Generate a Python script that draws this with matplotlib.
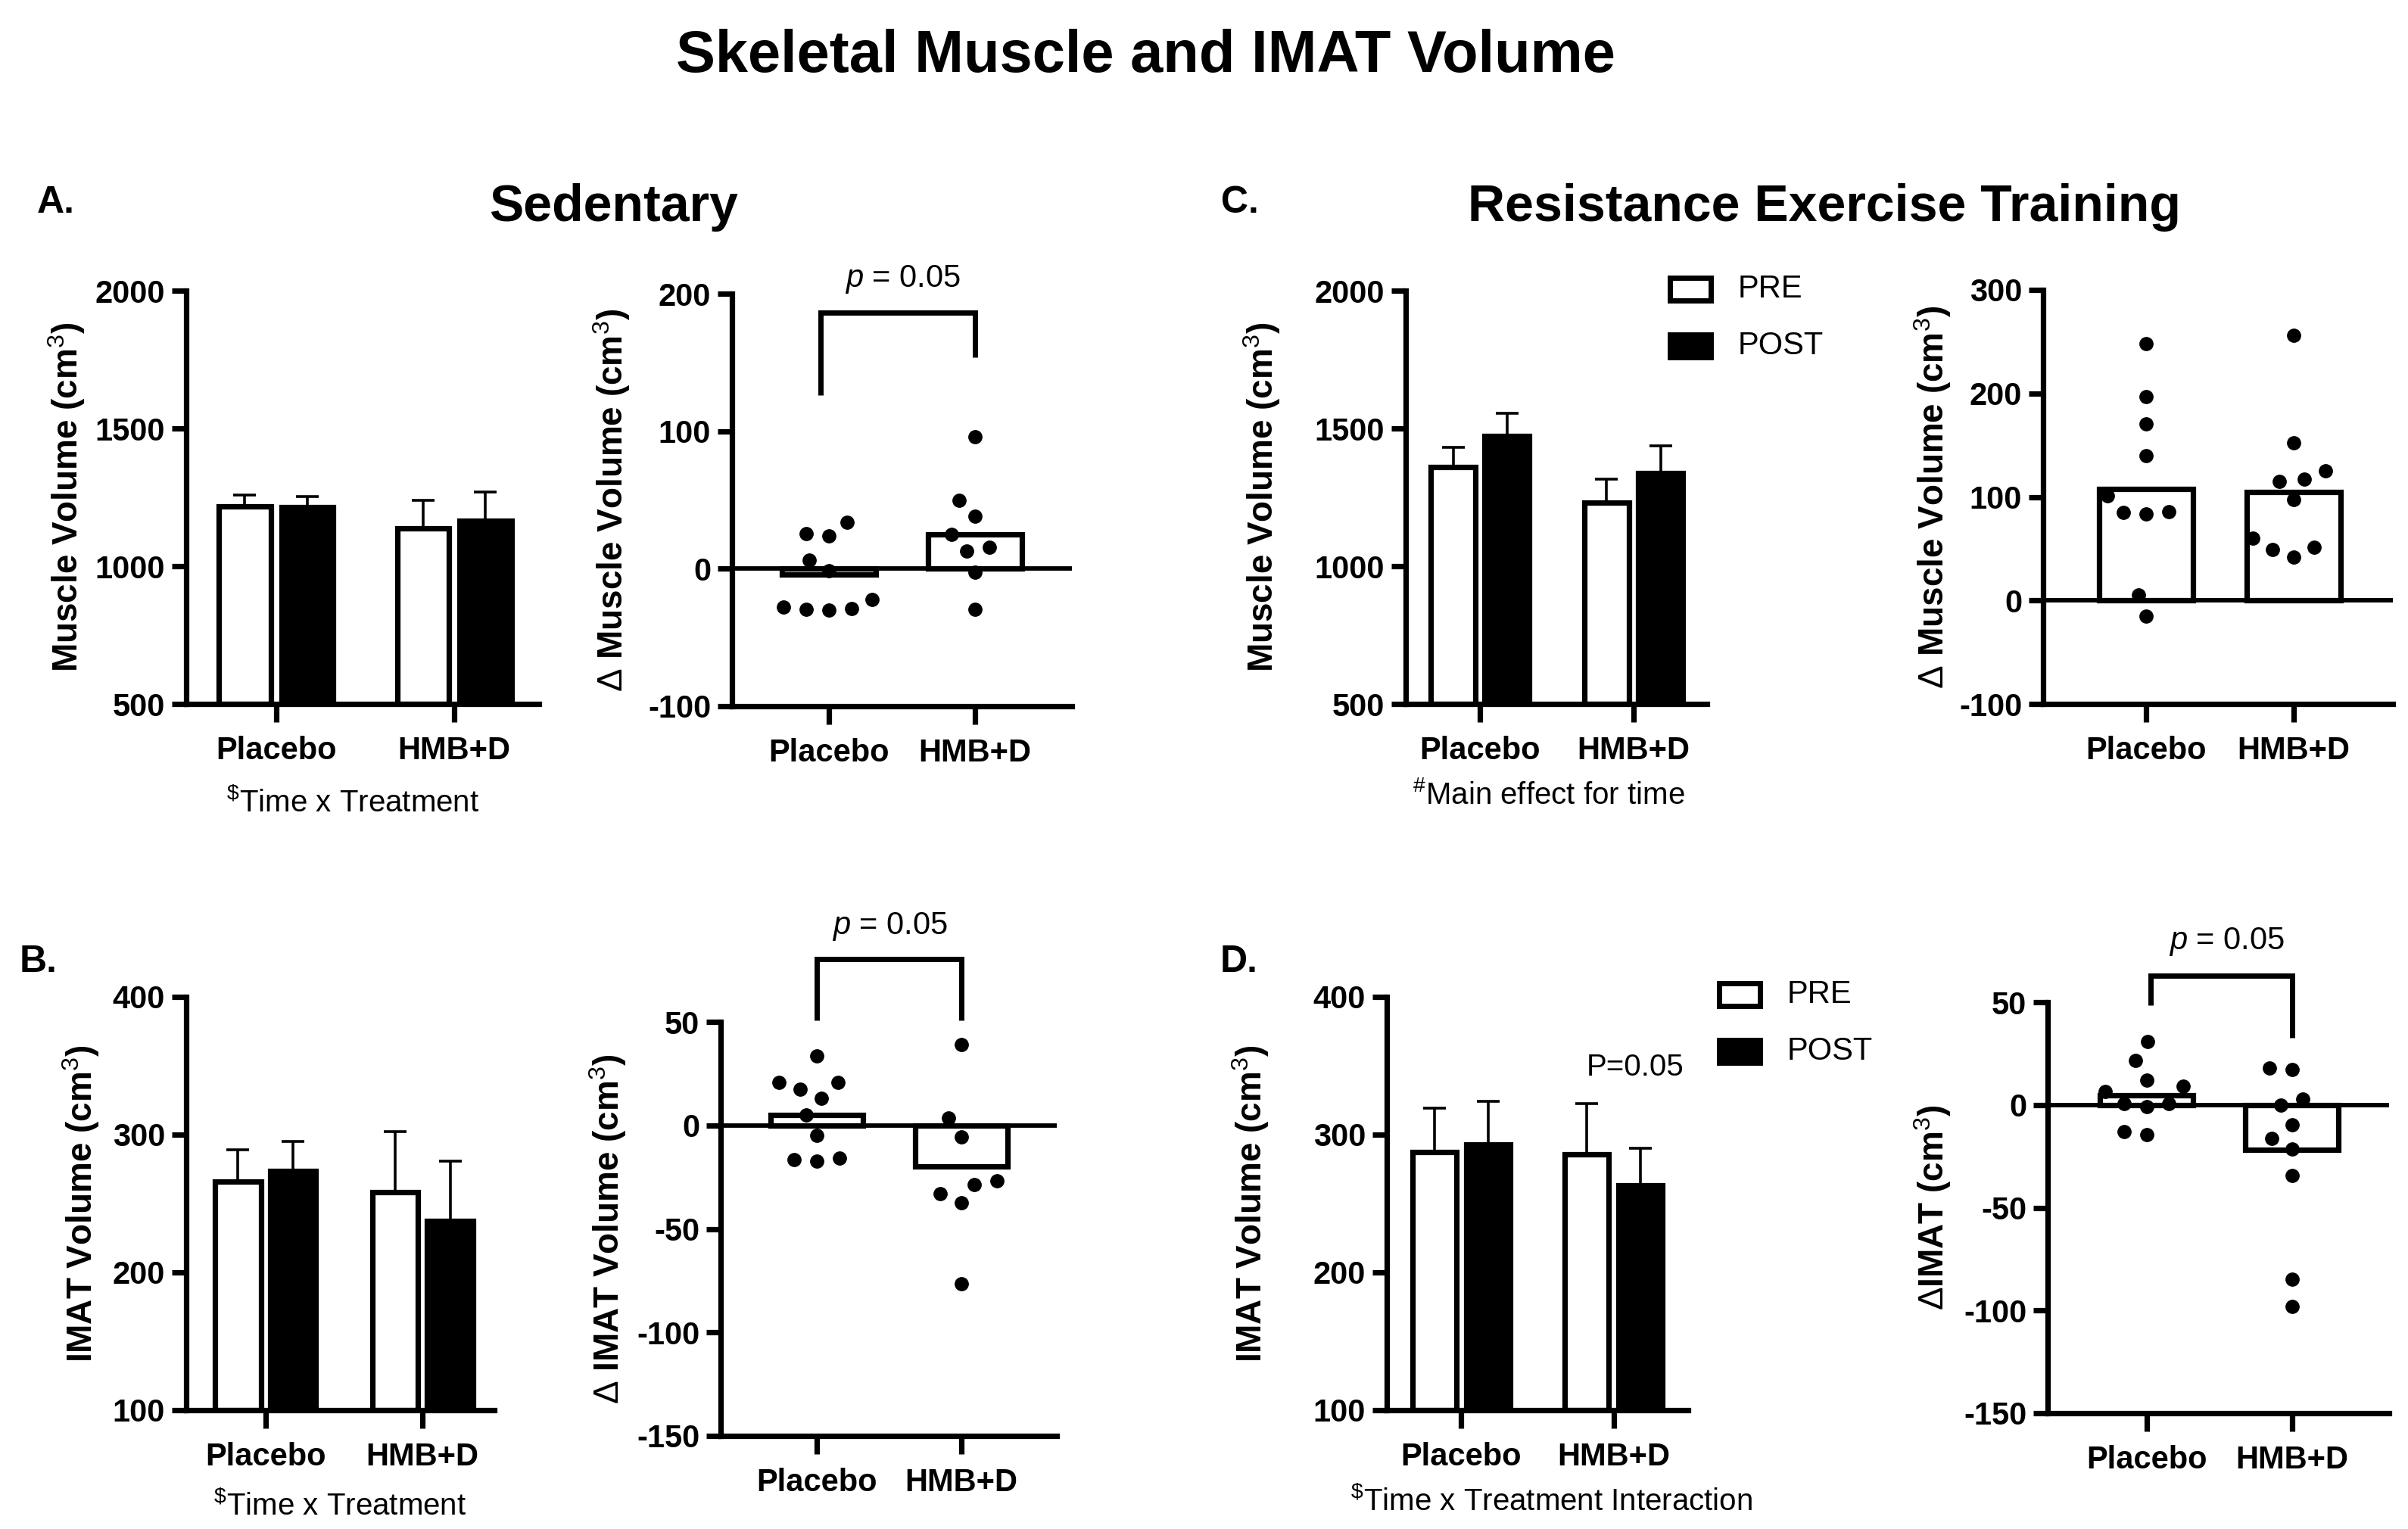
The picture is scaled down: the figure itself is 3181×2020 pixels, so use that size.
import numpy as np
import matplotlib
matplotlib.use('Agg')
import matplotlib.pyplot as plt
from matplotlib.patches import Rectangle

plt.rcParams['font.family'] = ['Liberation Sans', 'DejaVu Sans']
plt.rcParams['mathtext.fontset'] = 'custom'
plt.rcParams['mathtext.rm'] = 'Liberation Sans'
plt.rcParams['mathtext.it'] = 'Liberation Sans:italic'
plt.rcParams['mathtext.bf'] = 'Liberation Sans:bold'
plt.rcParams['axes.unicode_minus'] = False

W, H, DPI = 3181, 2020, 100

# ---------------- data ----------------
groups = ['Placebo', 'HMB+D']

# A. Sedentary - muscle volume (cm3), mean and SEM
sed_muscle_pre = [1218, 1138]
sed_muscle_pre_sem = [41, 101]
sed_muscle_post = [1214, 1166]
sed_muscle_post_sem = [38, 103]
# A. Sedentary - change in muscle volume
sed_dmuscle_placebo = [33.7, 23.9, 25.3, 6.5, -1.4, -22.5, -29.5, -29.0, -28.0, -30.3]
sed_dmuscle_hmb = [96.0, 49.7, 37.9, 24.7, 12.6, 15.4, -2.8, -29.5]
sed_dmuscle_mean = [-4.0, 25.0]

# B. Sedentary - IMAT volume
sed_imat_pre = [266, 258]
sed_imat_pre_sem = [23, 44]
sed_imat_post = [273.5, 237.5]
sed_imat_post_sem = [21.5, 43]
sed_dimat_placebo = [33.4, 20.6, 20.6, 17.6, 13.2, 5.0, -4.7, -17.2, -15.8, -16.4]
sed_dimat_hmb = [38.9, 3.4, -5.7, -28.5, -26.9, -33.0, -37.4, -76.5]
sed_dimat_mean = [5.0, -20.0]

# C. Resistance exercise training - muscle volume
ret_muscle_pre = [1359, 1230]
ret_muscle_pre_sem = [71, 85]
ret_muscle_post = [1472, 1338]
ret_muscle_post_sem = [83, 98]
ret_dmuscle_placebo = [248, 197, 170.5, 140, 101, 85, 86, 83.5, 5.3, -15.3]
ret_dmuscle_hmb = [256, 152, 117, 115, 125, 97.7, 60, 51.5, 49, 42]
ret_dmuscle_mean = [108, 105]

# D. Resistance exercise training - IMAT volume
ret_imat_pre = [287.5, 285.5]
ret_imat_pre_sem = [31.7, 37]
ret_imat_post = [293, 263]
ret_imat_post_sem = [31, 27]
ret_dimat_placebo = [30.7, 21.5, 11.9, 6.7, 9.2, 0.6, 0.6, -0.8, -14.3, -13.1]
ret_dimat_hmb = [18.0, 17.2, 0.0, 2.7, -9.6, -16.4, -21.3, -34.2, -84.9, -97.9]
ret_dimat_mean = [4.7, -22.0]

# significance brackets: (left x, right x, top, left leg end, right leg end)
bracket_A = (-0.057, 1.0, 186.5, 126, 154)
bracket_B = (0.0, 1.0, 80.4, 50.6, 50.6)
bracket_D = (0.03, 1.0, 63, 48.7, 32.7)

# ---------------- style ----------------
LW = 5.2
TICK_FS = 30
LABEL_FS = 33
BLACK = 'black'

fig = plt.figure(figsize=(W / DPI, H / DPI), dpi=DPI)


def px_axes(x0, x1, ytop, ybot):
    return fig.add_axes([x0 / W, 1 - ybot / H, (x1 - x0) / W, (ybot - ytop) / H])


def style_axes(ax, xlim, ylim, yticks, ylabel, ylabel_px):
    ax.set_xlim(*xlim)
    ax.set_ylim(*ylim)
    ax.set_yticks(yticks)
    ax.set_xticks([0, 1])
    ax.set_xticklabels(groups)
    for s in ('top', 'right'):
        ax.spines[s].set_visible(False)
    for s in ('left', 'bottom'):
        ax.spines[s].set_linewidth(LW)
        ax.spines[s].set_capstyle('projecting')
    ax.tick_params(axis='y', length=14, width=LW, labelsize=TICK_FS, pad=6)
    ax.tick_params(axis='x', length=17, width=LW, labelsize=TICK_FS, pad=13)
    for lbl in ax.get_xticklabels() + ax.get_yticklabels():
        lbl.set_fontweight('bold')
    ax.set_ylabel(ylabel, fontsize=LABEL_FS, fontweight='bold')
    pos = ax.get_position()
    x_ax = (ylabel_px / W - pos.x0) / pos.width
    ax.yaxis.set_label_coords(x_ax, 0.5)
    ax.yaxis.label.set_verticalalignment('center')
    ax.patch.set_alpha(0)


def bar_panel(ax, pre, pre_err, post, post_err, xlim, ylim, yticks, ylabel, ylabel_px):
    x = np.arange(len(groups))
    off, bw = 0.175, 0.29
    base = ylim[0]
    ax.bar(x - off, np.array(pre) - base, bottom=base, width=bw, color='white',
           edgecolor=BLACK, linewidth=LW, zorder=2)
    ax.bar(x + off, np.array(post) - base, bottom=base, width=bw, color=BLACK,
           edgecolor=BLACK, linewidth=LW, zorder=2)
    ax.errorbar(x - off, pre, yerr=[np.zeros(len(pre)), pre_err], fmt='none',
                ecolor=BLACK, elinewidth=2.6, capsize=11, capthick=2.6, zorder=1)
    ax.errorbar(x + off, post, yerr=[np.zeros(len(post)), post_err], fmt='none',
                ecolor=BLACK, elinewidth=2.6, capsize=11, capthick=2.6, zorder=1)
    style_axes(ax, xlim, ylim, yticks, ylabel, ylabel_px)


def swarm_offsets(ax, values, xlim, ylim, sep_px=30.0):
    pos = ax.get_position()
    ppu_x = pos.width * W / (xlim[1] - xlim[0])
    ppu_y = pos.height * H / (ylim[1] - ylim[0])
    vals = np.asarray(values, dtype=float)
    order = np.argsort(vals, kind='stable')
    placed = []
    offs = np.zeros(len(vals))
    for i in order:
        y = vals[i] * ppu_y
        cands = [0.0]
        for xj, yj in placed:
            dy = abs(y - yj)
            if dy < sep_px:
                dx = np.sqrt(sep_px ** 2 - dy ** 2)
                cands += [xj - dx, xj + dx]
        valid = [c for c in cands
                 if all((c - xj) ** 2 + (y - yj) ** 2 >= sep_px ** 2 - 1e-6 for xj, yj in placed)]
        best = min(valid, key=lambda c: (round(abs(c), 6), c))
        placed.append((best, y))
        offs[i] = best / ppu_x
    return offs


def delta_panel(ax, pts_pl, pts_hmb, means, xlim, ylim, yticks, ylabel, ylabel_px,
                bracket=None, ptext_xy=None):
    x = np.arange(len(groups))
    ax.bar(x, means, width=0.64, color='white', edgecolor=BLACK, linewidth=LW, zorder=2)
    ax.axhline(0, color=BLACK, linewidth=4.2, zorder=3)
    style_axes(ax, xlim, ylim, yticks, ylabel, ylabel_px)
    for xi, pts in zip(x, (pts_pl, pts_hmb)):
        offs = swarm_offsets(ax, pts, xlim, ylim)
        ax.plot(xi + offs, pts, 'o', color=BLACK, markersize=12.5, zorder=4,
                linestyle='none', clip_on=False)
    if bracket is not None:
        bx0, bx1, top, l0, l1 = bracket
        ax.plot([bx0, bx0, bx1, bx1], [l0, top, top, l1], color=BLACK, linewidth=5,
                clip_on=False, solid_joinstyle='miter', solid_capstyle='butt', zorder=5)
    if ptext_xy is not None:
        ax.text(ptext_xy[0], ptext_xy[1], r'$p$ = 0.05', ha='center', va='center',
                fontsize=30, clip_on=False)


# ---------------- panels ----------------
axA1 = px_axes(246, 712, 384, 930)
bar_panel(axA1, sed_muscle_pre, sed_muscle_pre_sem, sed_muscle_post, sed_muscle_post_sem,
          (-0.504, 1.475), (500, 2000), [500, 1000, 1500, 2000],
          r'Muscle Volume (cm$^3$)', 88)

axA2 = px_axes(967, 1416, 388, 933)
delta_panel(axA2, sed_dmuscle_placebo, sed_dmuscle_hmb, sed_dmuscle_mean,
            (-0.663, 1.663), (-100, 200), [-100, 0, 100, 200],
            r'$\Delta$ Muscle Volume (cm$^3$)', 808, bracket_A, (0.503, 210.5))

axC1 = px_axes(1857, 2255, 384, 930)
bar_panel(axC1, ret_muscle_pre, ret_muscle_pre_sem, ret_muscle_post, ret_muscle_post_sem,
          (-0.483, 1.478), (500, 2000), [500, 1000, 1500, 2000],
          r'Muscle Volume (cm$^3$)', 1667)

axC2 = px_axes(2699, 3161, 383, 930)
delta_panel(axC2, ret_dmuscle_placebo, ret_dmuscle_hmb, ret_dmuscle_mean,
            (-0.697, 1.672), (-100, 300), [-100, 0, 100, 200, 300],
            r'$\Delta$ Muscle Volume (cm$^3$)', 2553)

axB1 = px_axes(246, 653, 1317, 1863)
bar_panel(axB1, sed_imat_pre, sed_imat_pre_sem, sed_imat_post, sed_imat_post_sem,
          (-0.505, 1.457), (100, 400), [100, 200, 300, 400],
          r'IMAT Volume (cm$^3$)', 107)

axB2 = px_axes(952, 1396, 1350, 1897)
delta_panel(axB2, sed_dimat_placebo, sed_dimat_hmb, sed_dimat_mean,
            (-0.665, 1.66), (-150, 50), [-150, -100, -50, 0, 50],
            r'$\Delta$ IMAT Volume (cm$^3$)', 803, bracket_B, (0.503, 96.1))

axD1 = px_axes(1832, 2230, 1317, 1863)
bar_panel(axD1, ret_imat_pre, ret_imat_pre_sem, ret_imat_post, ret_imat_post_sem,
          (-0.49, 1.49), (100, 400), [100, 200, 300, 400],
          r'IMAT Volume (cm$^3$)', 1652)
axD1.text(1.14, 349, 'P=0.05', ha='center', va='center', fontsize=29)

axD2 = px_axes(2705, 3156, 1324, 1867)
delta_panel(axD2, ret_dimat_placebo, ret_dimat_hmb, ret_dimat_mean,
            (-0.68, 1.667), (-150, 50), [-150, -100, -50, 0, 50],
            r'$\Delta$IMAT (cm$^3$)', 2553, bracket_D, (0.55, 79.5))

# ---------------- figure texts ----------------
def ftext(xp, yp, s, **kw):
    fig.text(xp / W, 1 - yp / H, s, **kw)


ftext(1513, 75, 'Skeletal Muscle and IMAT Volume', ha='center', va='center',
      fontsize=56, fontweight='bold')
ftext(811, 274, 'Sedentary', ha='center', va='center', fontsize=49, fontweight='bold')
ftext(2410, 274, 'Resistance Exercise Training', ha='center', va='center',
      fontsize=49, fontweight='bold')
ftext(49, 268, 'A.', ha='left', va='center', fontsize=36, fontweight='bold')
ftext(26, 1271, 'B.', ha='left', va='center', fontsize=36, fontweight='bold')
ftext(1613, 268, 'C.', ha='left', va='center', fontsize=36, fontweight='bold')
ftext(1612, 1271, 'D.', ha='left', va='center', fontsize=36, fontweight='bold')

ftext(466, 1060, r'$^{\$}$Time x Treatment', ha='center', va='center', fontsize=29)
ftext(449, 1989, r'$^{\$}$Time x Treatment', ha='center', va='center', fontsize=29)
ftext(2046, 1050, r'$^{\#}$Main effect for time', ha='center', va='center', fontsize=29)
ftext(2050, 1983, r'$^{\$}$Time x Treatment Interaction', ha='center', va='center',
      fontsize=29)


def legend_at(box_left, text_left, y_pre, y_post):
    bw, bh = 54, 30
    for yc, fc, lab in ((y_pre, 'white', 'PRE'), (y_post, BLACK, 'POST')):
        fig.add_artist(Rectangle(((box_left + 3.5) / W, 1 - (yc + bh / 2) / H),
                                 bw / W, bh / H, transform=fig.transFigure,
                                 facecolor=fc, edgecolor=BLACK, linewidth=5))
        ftext(text_left, yc, lab, ha='left', va='center', fontsize=30)


legend_at(2202, 2296, 381.5, 457)
legend_at(2267, 2361, 1314, 1389)

fig.savefig('out.png', dpi=DPI)
